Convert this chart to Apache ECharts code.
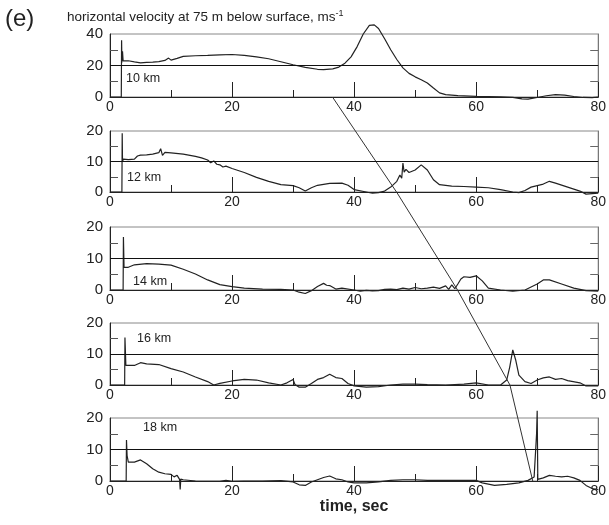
<!DOCTYPE html>
<html>
<head>
<meta charset="utf-8">
<script src="https://cdn.jsdelivr.net/npm/echarts@6/dist/echarts.min.js"></script>
<style>
  html, body { margin: 0; padding: 0; background: #fff; }
  #chart { width: 609px; height: 525px; }
</style>
</head>
<body>
<div id="chart"></div>
<script>
/* horizontal velocity at 75 m below surface, five ranges */

// [time s, velocity m/s]
const vel10km = [[0,0],[1.85,0],[1.9,36],[1.95,22],[2.05,29],[2.15,23],[3,23],[4,22.3],[5,21.7],[6,22],[7,22.2],[8,22.5],[9,23.2],[9.6,24.7],[10,23.4],[11,24.5],[12,25.8],[14,26.2],[16,26.4],[18,26.7],[20,27],[22,26.4],[24,25.5],[26,24.3],[28,22.4],[30,20.5],[32,18.8],[34,17.6],[35,17.4],[36.5,17.9],[37.5,19],[38.5,21.5],[39.5,25.5],[40.5,32],[41.5,40],[42.5,45.5],[43.3,45.8],[44,43.5],[45,37],[46,30],[47,23.8],[48,18.5],[49,15],[50,12.8],[51,11],[52,8.9],[53,5.7],[54,2.6],[55,1.5],[57,0.9],[60,0.4],[64,0.1],[66,-0.2],[67.5,-1.2],[68.5,-1.3],[70,-0.3],[71.5,0.8],[73,1.5],[74.5,1.2],[76,0.3],[77.5,-0.3],[79,-0.4],[80,0]];
const vel12km = [[0,0],[1.95,0],[2,19.3],[2.05,10],[2.2,10.8],[3,10.6],[4,10.8],[4.5,11.8],[5,12.1],[6,12.2],[7,12.4],[8,12.9],[8.3,14.2],[8.6,12],[9,13],[10,12.8],[12,12.4],[14,11.7],[15,11.2],[16,10.5],[16.5,9.6],[17,10.2],[17.5,9.1],[18,8.9],[18.5,8.2],[19,8.5],[20,7.7],[22,6.4],[24,4.8],[26,3.5],[28,2.4],[30,2.1],[31,1.4],[32,0.3],[33,1.4],[34,2.2],[36,2.8],[38,2.9],[39,2.2],[40,0.8],[42,0],[43,-0.4],[44,-0.2],[45,0.3],[46,1.6],[47,3.5],[47.5,5.6],[47.8,4.5],[48,9.5],[48.2,6.5],[48.5,7.4],[49,6.4],[50,7.2],[51,8.9],[52,7.2],[53,4],[54,2.4],[56,1.9],[58,1.8],[60,1.6],[62,1.4],[64,0.8],[66,0],[67,-0.2],[68,0.5],[69,1.6],[71,2.6],[72,3.5],[73,2.9],[75,1.6],[77,0.3],[78,-0.7],[80,-0.4]];
const vel14km = [[0,0],[2.15,0],[2.2,16.8],[2.3,7.2],[3,7.2],[4,8],[6,8.4],[8,8.2],[10,7.9],[12,6.6],[14,5.1],[16,3.2],[18,1.7],[20,1.1],[22,0.6],[25,0.3],[28,0.2],[30,0],[31,-0.7],[32,-1.1],[33,-0.2],[34,1.1],[35,2.1],[35.5,1.5],[36,1.4],[37,0.3],[38,0.6],[40,0],[41,-0.4],[42,-0.1],[43,-0.3],[44,-0.2],[45,0.2],[46,0.3],[47,0.1],[48,0.6],[49,0.3],[50,0.8],[51,0.4],[52,0.6],[53,0.9],[54,0.5],[55,1.3],[55.5,0.2],[56,1.6],[56.5,0.4],[57,1.9],[57.5,3.5],[58,4.2],[59,4],[60,4.5],[61,2.9],[62,0.6],[64,0],[66,-0.4],[68,0],[70,1.9],[71,3.2],[72,3.2],[74,1.9],[76,0.6],[78,-0.2],[80,-0.4]];
const vel16km = [[0,0],[2.4,0],[2.45,15.3],[2.6,6.3],[4,6.3],[5,7.2],[6,6.8],[8,6.6],[10,5.3],[12,4.2],[14,2.6],[16,1.1],[17,0],[18,0.5],[20,1.3],[22,1.8],[24,1.6],[26,0.7],[28,0],[29,0.7],[30,1.8],[30.3,0.2],[31,-0.7],[32,-0.7],[33,0.5],[34,1.8],[35,2.4],[36,3.5],[37,2.4],[38,2.1],[39,0.5],[40,-0.3],[42,-0.7],[44,-0.5],[46,0],[48,0.3],[50,0.3],[52,0.1],[55,0],[58,0.3],[60,0.7],[62,0],[64,0],[65,1.6],[65.5,5.8],[66,11.3],[66.5,7.9],[67,3.2],[68,1.1],[69,0.5],[70,1.6],[71,2.3],[72,2.6],[73,1.8],[74,2.1],[75,1.4],[77,0.7],[78,-0.3],[80,-0.3]];
const vel18km = [[0,0],[2.65,0],[2.7,13],[2.8,8.1],[3,6],[4,6],[5,6.7],[6,5.5],[7,3.9],[8,2.8],[9,2.3],[10,2.1],[10.5,1.3],[11,1.8],[11.4,0.5],[11.5,-2.7],[11.6,0.6],[12,0.4],[14,0],[16,-0.1],[18,-0.1],[19,0.2],[20,-0.1],[22,0],[25,0],[28,0.1],[30,-0.3],[31,-1.2],[32,-1.4],[33,-0.3],[34,0.4],[35,1.1],[36,1.6],[37,0.7],[38,0.4],[39,-0.3],[40,-0.6],[42,-0.6],[44,-0.3],[46,0.2],[48,0.4],[50,0.4],[52,0.2],[55,0.2],[58,0.2],[60,0.2],[61,-0.6],[63,-1.4],[65,-1.1],[67,-0.6],[68.5,0.2],[69.5,1.3],[69.9,15],[70,22.3],[70.1,0.5],[71,1],[72,1.8],[73,1.5],[74,1.3],[75,1.5],[76,1],[77,0.2],[78,-1.4],[79,-2.4],[80,-2.7]];

const panelData = [vel10km, vel12km, vel14km, vel16km, vel18km];
const panelLabels = ['10 km', '12 km', '14 km', '16 km', '18 km'];
const panelMax = [40, 20, 20, 20, 20];
const refLevel = [20, 10, 10, 10, 10];

// arrival front: range (km) vs time (s)
const frontRange = [10, 12, 14, 16, 18];
const frontTime = [36.1, 46.6, 56.3, 64.9, 68.6];

// layout (px)
const gridLeft = 110;
const gridWidth = 493;
const gridTops = [34, 131, 227, 323, 418];
const gridHeights = [63, 61, 63, 62, 63];
const labelPos = [[126, 79], [127, 178], [133, 282], [137, 339], [143, 428]];

const FONT = '"Liberation Sans", Arial, sans-serif';
const INK = '#222';

const grids = [];
const xAxes = [];
const yAxes = [];
const series = [];

panelData.forEach((data, i) => {
  grids.push({
    left: gridLeft, top: gridTops[i], width: gridWidth, height: gridHeights[i],
    show: true, borderColor: '#888', borderWidth: 1
  });
  const isLast = i === panelData.length - 1;
  xAxes.push({
    gridIndex: i, type: 'value', min: 0, max: 80, interval: 20,
    axisLine: { show: true, lineStyle: { color: INK, width: 1 } },
    axisTick: { show: true, inside: true, length: 15, lineStyle: { color: INK } },
    minorTick: { show: true, splitNumber: 2, length: 7, lineStyle: { color: INK } },
    axisLabel: { fontSize: 14, color: INK, margin: 3, fontFamily: FONT },
    splitLine: { show: false },
    name: isLast ? 'time, sec' : '',
    nameLocation: 'middle', nameGap: 17,
    nameTextStyle: { fontSize: 16, fontWeight: 'bold', color: INK, fontFamily: FONT }
  });
  const m = panelMax[i];
  // left axis with labels
  yAxes.push({
    gridIndex: i, type: 'value', min: 0, max: m, interval: m / 2,
    axisLine: { show: true, lineStyle: { color: INK, width: 1 } },
    axisTick: { show: false, inside: true },
    minorTick: { show: true, splitNumber: 2, length: 8, lineStyle: { color: '#555' } },
    axisLabel: { fontSize: 15, color: INK, margin: 7, fontFamily: FONT },
    splitLine: { show: false }
  });
  // right axis, ticks only
  yAxes.push({
    gridIndex: i, type: 'value', position: 'right', min: 0, max: m, interval: m / 2,
    axisLine: { show: true, lineStyle: { color: '#777', width: 1 } },
    axisTick: { show: false, inside: true },
    minorTick: { show: true, splitNumber: 2, length: 8, lineStyle: { color: '#666' } },
    axisLabel: { show: false },
    splitLine: { show: false }
  });
  series.push({
    type: 'line', xAxisIndex: i, yAxisIndex: i * 2, data: data,
    showSymbol: false, clip: false, silent: true,
    lineStyle: { color: '#222', width: 1.2 },
    markLine: {
      silent: true, symbol: 'none', animation: false,
      label: { show: false },
      lineStyle: { color: '#111', width: 1, type: 'solid' },
      data: [{ yAxis: refLevel[i] }]
    }
  });
});

// overlay grid for the arrival front line across panels
grids.push({ left: gridLeft, width: gridWidth, top: gridTops[0] + gridHeights[0], height: gridTops[4] + gridHeights[4] - gridTops[0] - gridHeights[0] });
xAxes.push({ gridIndex: 5, type: 'value', min: 0, max: 80, show: false });
yAxes.push({ gridIndex: 5, type: 'value', min: 10, max: 18, inverse: true, show: false });
series.push({
  type: 'line', xAxisIndex: 5, yAxisIndex: yAxes.length - 1,
  data: frontTime.map((t, k) => [t, frontRange[k]]),
  showSymbol: false, silent: true, clip: false,
  lineStyle: { color: '#333', width: 1 }
});

const graphic = [
  { type: 'text', left: 5, top: 7, style: { text: '(e)', font: '24px ' + FONT, fill: INK } },
  {
    type: 'text', left: 67, top: 9,
    style: {
      text: '{a|horizontal velocity at 75 m below surface, ms}{s|-1}',
      rich: {
        a: { fontSize: 13.5, fontFamily: FONT, fill: INK },
        s: { fontSize: 9, fontFamily: FONT, fill: INK, verticalAlign: 'top', padding: [0, 0, 7, 0] }
      }
    }
  }
];
panelLabels.forEach((txt, i) => {
  graphic.push({
    type: 'text', x: labelPos[i][0], y: labelPos[i][1],
    style: { text: txt, font: '12.5px ' + FONT, fill: INK, verticalAlign: 'middle' }
  });
});

const chart = echarts.init(document.getElementById('chart'), null, { renderer: 'canvas' });
chart.setOption({
  animation: false,
  textStyle: { fontFamily: FONT },
  grid: grids,
  xAxis: xAxes,
  yAxis: yAxes,
  series: series,
  graphic: graphic
});
</script>
</body>
</html>
